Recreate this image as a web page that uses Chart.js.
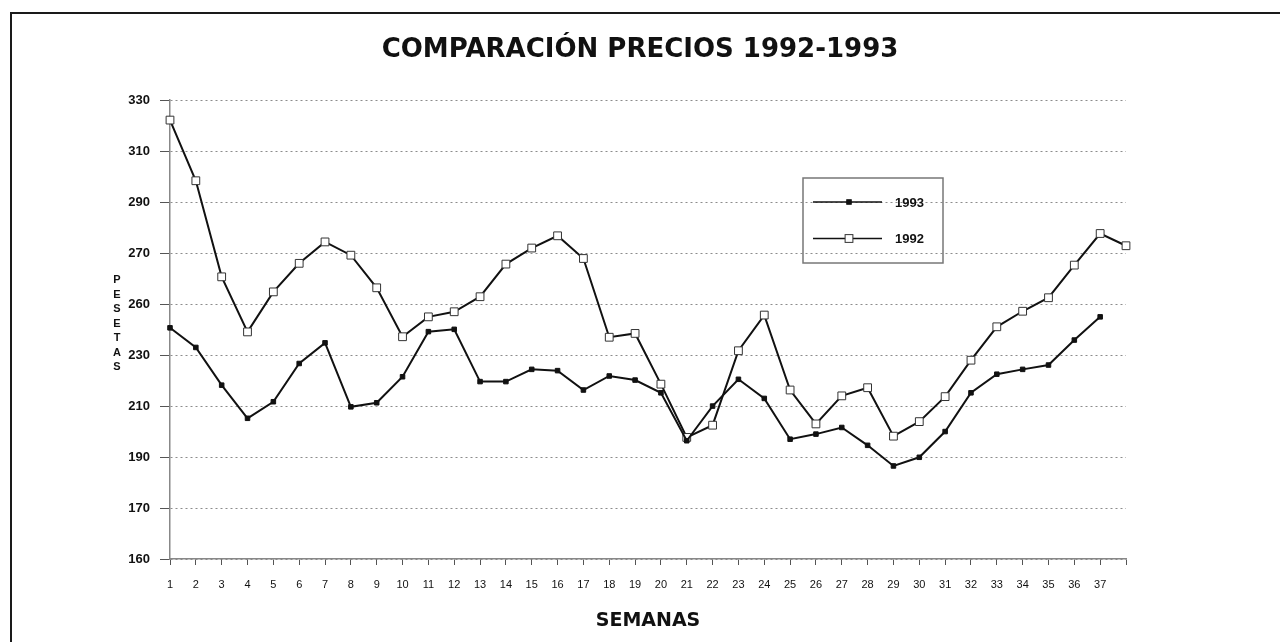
<!DOCTYPE html>
<html>
<head>
<meta charset="utf-8">
<title>Comparación precios 1992-1993</title>
<script src="https://cdn.jsdelivr.net/npm/chart.js"></script>
<style>
  html, body { margin: 0; padding: 0; background: #fff; }
  #wrap { width: 1280px; height: 642px; }
</style>
</head>
<body>
<div id="wrap"><canvas id="grafico" width="1280" height="642"></canvas></div>
<script>
// semanas (la categoria 38 solo lleva el ultimo punto de 1992)
const semanas = ['1','2','3','4','5','6','7','8','9','10','11','12','13','14','15','16','17','18','19',
  '20','21','22','23','24','25','26','27','28','29','30','31','32','33','34','35','36','37',''];

const precios1993 = [240.7, 233, 218.2, 205.2, 211.7, 226.7, 234.8, 209.7, 211.3, 221.5,
  239.2, 240.1, 219.6, 219.6, 224.4, 223.9, 216.3, 221.8, 220.2, 215.2,
  196.4, 210, 220.5, 213, 197, 199, 201.6, 194.6, 186.5, 189.9,
  200, 215.2, 222.5, 224.4, 226.1, 235.9, 245];

const precios1992 = [322.2, 298.4, 260.7, 239.1, 254.8, 266, 274.4, 269.2, 256.4, 237.2,
  245, 247, 252.9, 265.7, 272, 276.8, 267.9, 237, 238.5, 218.6,
  197.7, 202.5, 231.7, 245.7, 216.3, 203, 214, 217.2, 198.2, 203.9,
  213.7, 228, 241.1, 247.2, 252.5, 265.3, 277.7, 272.9];

// marcas del eje Y tal como aparecen en el original
const valoresEjeY = [150, 170, 190, 210, 230, 250, 270, 290, 310, 330];
const etiquetasEjeY = ['160', '170', '190', '210', '230', '260', '270', '290', '310', '330'];

const letrasEjeY = ['P', 'E', 'S', 'E', 'T', 'A', 'S'];

const FUENTE = '"Liberation Sans", Arial, sans-serif';
const FUENTE_TITULO = '"DejaVu Sans", "Liberation Sans", sans-serif';

// marco, rotulo vertical y leyenda
const decorado = {
  id: 'decorado',
  afterDraw(chart) {
    const ctx = chart.ctx;
    ctx.save();
    ctx.strokeStyle = '#1a1a1a';
    ctx.lineWidth = 2;
    ctx.beginPath();
    ctx.moveTo(11, 642);
    ctx.lineTo(11, 13);
    ctx.lineTo(1280, 13);
    ctx.stroke();

    ctx.fillStyle = '#111';
    ctx.font = 'bold 11px ' + FUENTE;
    ctx.textAlign = 'center';
    ctx.textBaseline = 'middle';
    letrasEjeY.forEach((l, i) => ctx.fillText(l, 117, 280 + i * 14.5));

    // leyenda
    ctx.strokeStyle = '#777';
    ctx.lineWidth = 1.5;
    ctx.strokeRect(803, 178, 140, 85);
    chart.data.datasets.forEach((ds, i) => {
      const y = 202 + i * 36.5;
      ctx.strokeStyle = ds.borderColor;
      ctx.lineWidth = 1.5;
      ctx.beginPath();
      ctx.moveTo(813, y);
      ctx.lineTo(882, y);
      ctx.stroke();
      const s = ds.pointRadius * Math.SQRT1_2;
      ctx.fillStyle = ds.pointBackgroundColor;
      ctx.fillRect(849 - s, y - s, 2 * s, 2 * s);
      ctx.strokeStyle = ds.pointBorderColor;
      ctx.lineWidth = 1;
      ctx.strokeRect(849 - s, y - s, 2 * s, 2 * s);
      ctx.fillStyle = '#111';
      ctx.font = 'bold 13px ' + FUENTE;
      ctx.textAlign = 'left';
      ctx.fillText(ds.label, 895, y + 1);
    });
    ctx.restore();
  }
};

const ctx = document.getElementById('grafico');
const grafico = new Chart(ctx, {
  type: 'line',
  data: {
    labels: semanas,
    datasets: [{
      label: '1993',
      data: precios1993,
      borderColor: '#111',
      borderWidth: 2,
      pointStyle: 'rect',
      pointRadius: 3.2,
      pointBackgroundColor: '#111',
      pointBorderColor: '#111',
      pointBorderWidth: 1,
      tension: 0,
      clip: false
    }, {
      label: '1992',
      data: precios1992,
      borderColor: '#111',
      borderWidth: 2,
      pointStyle: 'rect',
      pointRadius: 5.5,
      pointBackgroundColor: '#fff',
      pointBorderColor: '#333',
      pointBorderWidth: 1,
      tension: 0,
      clip: false
    }]
  },
  options: {
    responsive: false,
    animation: false,
    devicePixelRatio: 1,
    layout: { padding: 0 },
    plugins: {
      legend: { display: false },
      tooltip: { enabled: false },
      title: {
        display: true,
        text: 'COMPARACIÓN PRECIOS 1992-1993',
        color: '#111',
        font: { family: FUENTE_TITULO, size: 26, weight: 'bold' },
        padding: { top: 35, bottom: 34 }
      }
    },
    scales: {
      x: {
        offset: false,
        grid: { drawOnChartArea: false, drawTicks: true, tickLength: 6, tickColor: '#555' },
        border: { display: true, color: '#888', width: 1.5 },
        ticks: {
          autoSkip: false, maxRotation: 0, padding: 13, color: '#111',
          font: { family: FUENTE, size: 11 }
        },
        title: {
          display: true,
          text: 'SEMANAS',
          color: '#111',
          font: { family: FUENTE_TITULO, size: 19, weight: 'bold' },
          padding: { top: 5, bottom: 10 }
        }
      },
      y: {
        min: 150,
        max: 330,
        afterFit(scale) { scale.width = 170; },
        afterBuildTicks(scale) { scale.ticks = valoresEjeY.map(v => ({ value: v })); },
        grid: { color: 'rgba(0,0,0,0.45)', lineWidth: 1, tickLength: 10, tickColor: '#555', tickBorderDash: [] },
        border: { display: true, color: '#888', width: 1.5, dash: [2, 3] },
        ticks: {
          padding: 10,
          color: '#111',
          font: { family: FUENTE, size: 13, weight: 'bold' },
          callback: (v) => etiquetasEjeY[valoresEjeY.indexOf(v)]
        }
      },
      // margen derecho vacio, como en el original
      derecha: {
        type: 'linear',
        position: 'right',
        afterFit(scale) { scale.width = 154; },
        grid: { display: false },
        border: { display: false },
        ticks: { display: false }
      }
    }
  },
  plugins: [decorado]
});
</script>
</body>
</html>
